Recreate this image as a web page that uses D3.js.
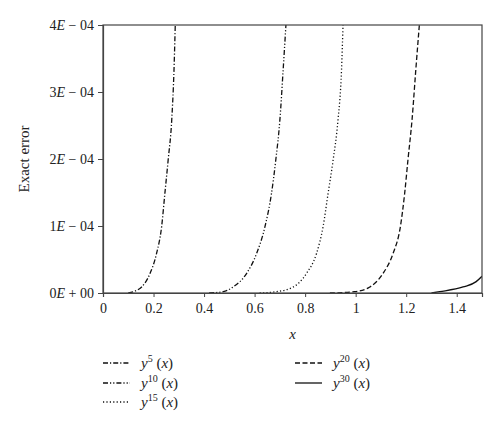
<!DOCTYPE html>
<html>
<head>
<meta charset="utf-8">
<script src="https://cdnjs.cloudflare.com/ajax/libs/d3/7.8.5/d3.min.js"></script>
<style>
  body { margin: 0; background: #fff; }
  text { font-family: "Liberation Serif", "DejaVu Serif", serif; fill: #222; }
</style>
</head>
<body>
<div id="chart"></div>
<script>
// values (x, error in units of 1E-04)
var y5_x  = [0.10, 0.127, 0.153, 0.186, 0.212, 0.232, 0.245, 0.258, 0.272, 0.281, 0.286]
var y5_v  = [0, 0.03, 0.09, 0.29, 0.59, 0.99, 1.49, 1.99, 2.58, 3.33, 4.0]
var y10_x = [0.42, 0.476, 0.515, 0.568, 0.608, 0.641, 0.667, 0.684, 0.700, 0.713, 0.724]
var y10_v = [0, 0.02, 0.09, 0.29, 0.59, 0.99, 1.49, 1.99, 2.58, 3.33, 4.0]
var y15_x = [0.62, 0.687, 0.753, 0.805, 0.845, 0.871, 0.891, 0.911, 0.930, 0.944, 0.950]
var y15_v = [0, 0.02, 0.09, 0.29, 0.59, 0.99, 1.49, 1.99, 2.58, 3.33, 4.0]
var y20_x = [0.898, 0.996, 1.056, 1.108, 1.148, 1.177, 1.194, 1.207, 1.223, 1.238, 1.252]
var y20_v = [0, 0.02, 0.09, 0.29, 0.59, 0.99, 1.49, 1.99, 2.58, 3.33, 4.0]
var y30_x = [1.30, 1.333, 1.425, 1.477, 1.50]
var y30_v = [0, 0.02, 0.09, 0.17, 0.25]

var x_ticks = [0, 0.2, 0.4, 0.6, 0.8, 1, 1.2, 1.4]
var y_ticks = [0, 1, 2, 3, 4]
var y_tick_labels = [["0", "+ 00"], ["1", "\u2212 04"], ["2", "\u2212 04"], ["3", "\u2212 04"], ["4", "\u2212 04"]]

var series = [
  { name: "5",  xs: y5_x,  vs: y5_v,  dash: "5,2,1.2,2" },
  { name: "10", xs: y10_x, vs: y10_v, dash: "5,2,1.2,2,1.2,2" },
  { name: "15", xs: y15_x, vs: y15_v, dash: "1.2,2.2" },
  { name: "20", xs: y20_x, vs: y20_v, dash: "5,2.5" },
  { name: "30", xs: y30_x, vs: y30_v, dash: null }
]

var margin = {top: 25, right: 18, bottom: 136, left: 103},
    width = 500 - margin.left - margin.right,
    height = 429 - margin.top - margin.bottom;

var root = d3.select("#chart").append("svg")
    .attr("width", 500)
    .attr("height", 429)
var svg = root.append("g")
    .attr("transform", "translate(" + margin.left + "," + margin.top + ")");

var x = d3.scaleLinear().domain([0, 1.5]).range([0, width]);
var y = d3.scaleLinear().domain([0, 4]).range([height, 0]);

// clip
svg.append("defs").append("clipPath").attr("id", "clip")
  .append("rect").attr("y", -2).attr("width", width).attr("height", height + 2)

var line_coords = d3.line()
    .x(function(d) { return x(d[0]); })
    .y(function(d) { return y(d[1]); })
    .curve(d3.curveMonotoneX);

var lines = svg.append("g").attr("clip-path", "url(#clip)")
series.forEach(function(s) {
  var pts = s.xs.map(function(v, i) { return [v, s.vs[i]]; })
  lines.append("path").datum(pts)
    .attr("fill", "none")
    .attr("stroke", "#111")
    .attr("stroke-width", 1.3)
    .attr("stroke-dasharray", s.dash)
    .attr("d", line_coords)
})

// frame
svg.append("rect")
  .attr("width", width).attr("height", height)
  .attr("fill", "none").attr("stroke", "#444").attr("stroke-width", 1.2)

// axes
var xAxis = svg.append("g")
  .attr("transform", "translate(0," + height + ")")
  .call(d3.axisBottom(x).tickValues(x_ticks).tickSize(4).tickPadding(6).tickFormat(d3.format("")))
xAxis.select(".domain").attr("stroke", "#444").attr("stroke-width", 1.2)
xAxis.selectAll("line").attr("stroke", "#444")
xAxis.selectAll("text").style("font-size", "14px").attr("fill", "#222")

var yAxis = svg.append("g")
  .call(d3.axisLeft(y).tickValues(y_ticks).tickSize(5).tickPadding(5).tickFormat(""))
yAxis.select(".domain").attr("stroke", "#444").attr("stroke-width", 1.2)
yAxis.selectAll("line").attr("stroke", "#444")
yAxis.selectAll(".tick").append("text")
  .attr("x", -9).attr("dy", "0.35em")
  .attr("text-anchor", "end")
  .style("font-size", "14px")
  .each(function(d, i) {
    var t = d3.select(this)
    t.append("tspan").text(y_tick_labels[i][0])
    t.append("tspan").style("font-style", "italic").text("E")
    t.append("tspan").text(" " + y_tick_labels[i][1])
  })

// axis titles
root.append("text")
  .attr("transform", "translate(29," + (margin.top + height / 2) + ") rotate(-90)")
  .attr("text-anchor", "middle")
  .style("font-size", "15px")
  .text("Exact error")

root.append("text")
  .attr("x", margin.left + width / 2).attr("y", 339)
  .attr("text-anchor", "middle")
  .style("font-size", "15px").style("font-style", "italic")
  .text("x")

// legend
var legend_pos = [[103, 363], [103, 383], [103, 402], [295, 363], [295, 383]]
series.forEach(function(s, i) {
  var p = legend_pos[i]
  root.append("line")
    .attr("x1", p[0]).attr("x2", p[0] + 27)
    .attr("y1", p[1]).attr("y2", p[1])
    .attr("stroke", "#111").attr("stroke-width", 1.3)
    .attr("stroke-dasharray", s.dash)
  var t = root.append("text")
    .attr("x", p[0] + 38).attr("y", p[1] + 5)
    .style("font-size", "15px")
  t.append("tspan").style("font-style", "italic").text("y")
  t.append("tspan").attr("dy", -6).style("font-size", "10px").text(s.name)
  t.append("tspan").attr("dy", 6).text(" (")
  t.append("tspan").style("font-style", "italic").text("x")
  t.append("tspan").text(")")
})
</script>
</body>
</html>
